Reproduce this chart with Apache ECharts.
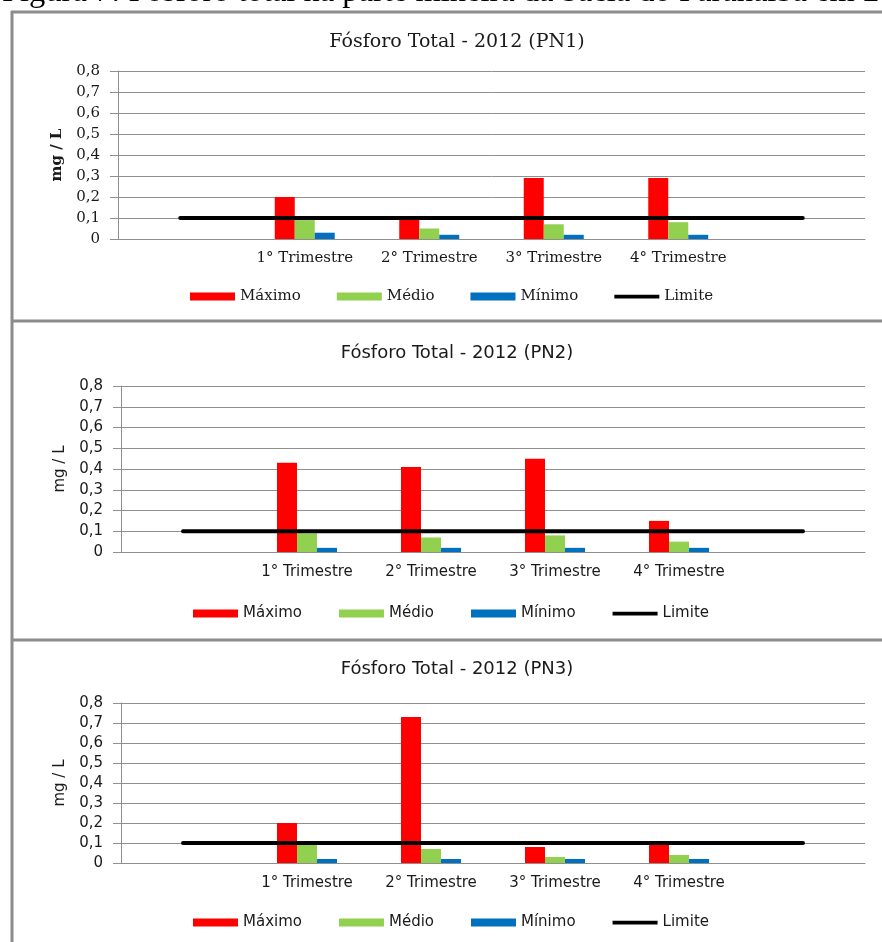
<!DOCTYPE html>
<html style="height: 100%">
<head>
<meta charset="utf-8">
</head>
<body style="height: 100%; margin: 0; background: #fff">
<div id="container" style="width: 882px; height: 942px"></div>
<script type="text/javascript" src="https://cdn.jsdelivr.net/npm/echarts@6/dist/echarts.min.js"></script>
<script type="text/javascript">
// categories (blank slots at both ends, like the Excel sheet)
var categories = ['', '1° Trimestre', '2° Trimestre', '3° Trimestre', '4° Trimestre', ''];
var yTicks = ['0', '0,1', '0,2', '0,3', '0,4', '0,5', '0,6', '0,7', '0,8'];
var titles = ['Fósforo Total - 2012 (PN1)', 'Fósforo Total - 2012 (PN2)', 'Fósforo Total - 2012 (PN3)'];
var legendNames = ['Máximo', 'Médio', 'Mínimo', 'Limite'];
var caption = 'Figura 7: Fósforo total na parte mineira da bacia do Paranaíba em 2012';

// mg/L per quarter
var pn1Max = [0.20, 0.10, 0.29, 0.29];
var pn1Med = [0.09, 0.05, 0.07, 0.08];
var pn1Min = [0.03, 0.02, 0.02, 0.02];

var pn2Max = [0.43, 0.41, 0.45, 0.15];
var pn2Med = [0.09, 0.07, 0.08, 0.05];
var pn2Min = [0.02, 0.02, 0.02, 0.02];

var pn3Max = [0.20, 0.73, 0.08, 0.10];
var pn3Med = [0.09, 0.07, 0.03, 0.04];
var pn3Min = [0.02, 0.02, 0.02, 0.02];

var limite = [0.1, 0.1, 0.1, 0.1, 0.1, 0.1];

var red = '#ff0000';
var green = '#92d050';
var blue = '#0070c0';
var gridColor = '#8f8f8f';
var textColor = '#1a1a1a';
var serif = '"DejaVu Serif", "Liberation Serif", serif';
var sans = '"DejaVu Sans", "Noto Sans", sans-serif';

var dom = document.getElementById('container');
var myChart = echarts.init(dom, null, { renderer: 'canvas' });

var panels = [
    { font: serif, grid: { left: 118, top: 71, width: 747, height: 168 }, titleTop: 28, legendTop: 289, legendLeft: 190, legendGap: 36, labelMargin: 12, data: [pn1Max, pn1Med, pn1Min] },
    { font: sans, grid: { left: 121, top: 386, width: 744, height: 166 }, titleTop: 339, legendTop: 606, legendLeft: 193, legendGap: 37, labelMargin: 13, data: [pn2Max, pn2Med, pn2Min] },
    { font: sans, grid: { left: 121, top: 703, width: 744, height: 160 }, titleTop: 655, legendTop: 915, legendLeft: 193, legendGap: 37, labelMargin: 13, data: [pn3Max, pn3Med, pn3Min] }
];

function pad(arr) {
    return ['-'].concat(arr, ['-']);
}

var legendData = [
    { name: 'Máximo', icon: 'rect' },
    { name: 'Médio', icon: 'rect' },
    { name: 'Mínimo', icon: 'rect' },
    { name: 'Limite', icon: 'path://M0,0L48,0L48,4L0,4Z' }
];

var option = {
    animation: false,
    backgroundColor: '#fff',
    title: [],
    legend: [],
    grid: [],
    xAxis: [],
    yAxis: [],
    series: [],
    graphic: [
        { type: 'text', left: 2, top: -24, style: { text: caption, font: '32.5px "Liberation Serif", serif', fill: '#000' } },
        { type: 'line', shape: { x1: 12, y1: 11, x2: 12, y2: 942 }, style: { stroke: '#8c8c8c', lineWidth: 3 } },
        { type: 'line', shape: { x1: 11, y1: 12, x2: 882, y2: 12 }, style: { stroke: '#8c8c8c', lineWidth: 3 } },
        { type: 'line', shape: { x1: 11, y1: 321, x2: 882, y2: 321 }, style: { stroke: '#8c8c8c', lineWidth: 3 } },
        { type: 'line', shape: { x1: 11, y1: 640, x2: 882, y2: 640 }, style: { stroke: '#8c8c8c', lineWidth: 3 } }
    ]
};

panels.forEach(function (p, i) {
    option.title.push({
        text: titles[i],
        left: 452,
        top: p.titleTop,
        textAlign: 'center',
        textStyle: { fontFamily: p.font, fontSize: i === 0 ? 19 : 18, fontWeight: 'normal', color: textColor }
    });
    option.legend.push({
        data: legendData,
        left: p.legendLeft,
        top: p.legendTop,
        padding: 0,
        itemWidth: 45,
        itemHeight: 8,
        itemGap: p.legendGap,
        selectedMode: false,
        textStyle: { fontFamily: p.font, fontSize: 15, color: textColor }
    });
    option.grid.push(p.grid);
    option.xAxis.push({
        type: 'category',
        gridIndex: i,
        data: categories,
        axisLine: { lineStyle: { color: gridColor, width: 1 } },
        axisTick: { show: false },
        axisLabel: { interval: 0, margin: p.labelMargin, fontFamily: p.font, fontSize: 15, color: textColor },
        splitLine: { show: false }
    });
    option.yAxis.push({
        type: 'value',
        gridIndex: i,
        min: 0,
        max: 0.8,
        interval: 0.1,
        name: 'mg / L',
        nameLocation: 'middle',
        nameRotate: 90,
        nameGap: 53,
        nameTextStyle: { fontFamily: p.font, fontSize: 15, color: textColor, fontWeight: i === 0 ? 'bold' : 'normal' },
        axisLine: { show: true, lineStyle: { color: gridColor, width: 1 } },
        axisTick: { show: true, length: 8, lineStyle: { color: gridColor } },
        axisLabel: {
            margin: 18,
            fontFamily: p.font,
            fontSize: 15,
            color: textColor,
            formatter: function (v) { return yTicks[Math.round(v * 10)]; }
        },
        splitLine: { lineStyle: { color: gridColor, width: 1 } }
    });
    var colors = [red, green, blue];
    for (var k = 0; k < 3; k++) {
        option.series.push({
            name: legendNames[k],
            type: 'bar',
            xAxisIndex: i,
            yAxisIndex: i,
            data: pad(p.data[k]),
            barWidth: 20,
            barGap: '0%',
            itemStyle: { color: colors[k] }
        });
    }
    option.series.push({
        name: 'Limite',
        type: 'line',
        xAxisIndex: i,
        yAxisIndex: i,
        data: limite,
        symbol: 'none',
        z: 5,
        lineStyle: { color: '#000', width: 4, cap: 'round' },
        itemStyle: { color: '#000' }
    });
});

myChart.setOption(option);
</script>
</body>
</html>
